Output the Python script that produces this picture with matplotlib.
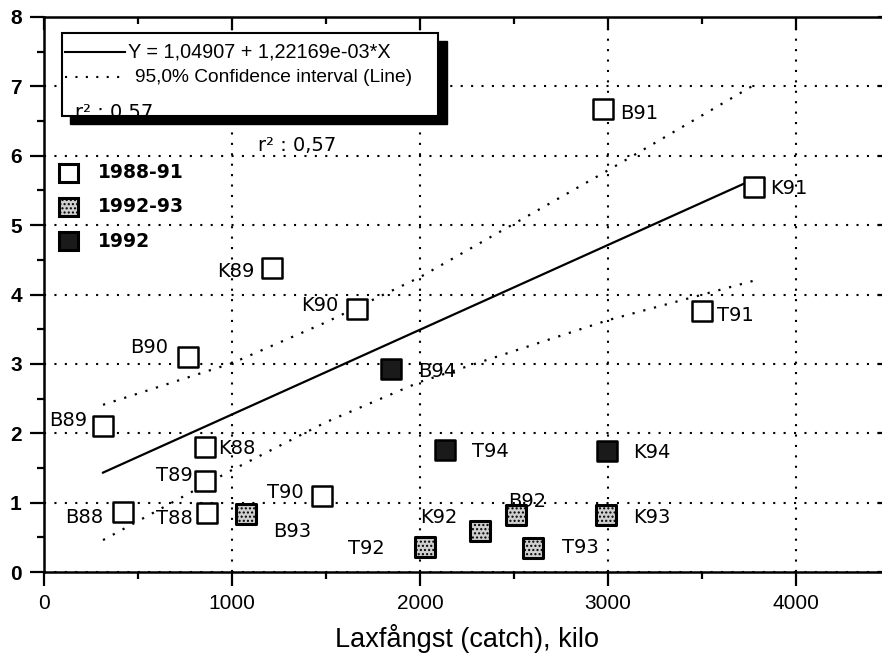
import matplotlib
matplotlib.use('Agg')
import matplotlib.pyplot as plt
from matplotlib.patches import Rectangle
from matplotlib.lines import Line2D

# 1988-91 (open squares)
old_names = ['B88', 'B89', 'B90', 'B91', 'K88', 'K89', 'K90', 'K91', 'T88', 'T89', 'T90', 'T91']
old_x = [420, 314, 766, 2973, 856, 1213, 1665, 3777, 867, 856, 1479, 3500]
old_y = [0.86, 2.10, 3.10, 6.67, 1.80, 4.38, 3.79, 5.55, 0.85, 1.31, 1.10, 3.76]

# 1992-93 (stippled squares)
mid_names = ['B92', 'B93', 'K92', 'K93', 'T92', 'T93']
mid_x = [2511, 1074, 2319, 2989, 2027, 2601]
mid_y = [0.82, 0.84, 0.59, 0.82, 0.36, 0.35]

# "1992" (filled squares)
new_names = ['B94', 'T94', 'K94']
new_x = [1846, 2133, 2995]
new_y = [2.93, 1.76, 1.74]

# regression Y = a + b*X and its 95% band
intercept = 1.04907
slope = 1.22169e-03
band_x = [314, 1000, 1500, 2000, 3000, 3777]
band_upper = [2.41, 3.01, 3.60, 4.25, 5.79, 7.02]
band_lower = [0.46, 1.47, 2.16, 2.74, 3.63, 4.20]

# label placement: offset in pixels from marker, alignment
label_pos = {
    'B88': (-20, -5, 'right'), 'B89': (-16, 6, 'right'), 'B90': (-20, 9, 'right'),
    'B91': (17, -4, 'left'), 'K88': (13, -1, 'left'), 'K89': (-18, -3, 'right'),
    'K90': (-19, 4, 'right'), 'K91': (16, -2, 'left'), 'T88': (-14, -5, 'right'),
    'T89': (-12, 6, 'right'), 'T90': (-18, 3, 'right'), 'T91': (15, -4, 'left'),
    'B92': (-8, 14, 'left'), 'B93': (27, -18, 'left'), 'K92': (-22, 14, 'right'),
    'K93': (27, -2, 'left'), 'T92': (-40, -1, 'right'), 'T93': (29, 0, 'left'),
    'B94': (27, -3, 'left'), 'T94': (27, -2, 'left'), 'K94': (26, -1, 'left'),
}

W, H = 882, 665
fig = plt.figure(figsize=(W / 100, H / 100), dpi=100)
ax = fig.add_axes([44 / W, 1 - 572 / H, 846 / W, 555 / H])
ax.set_xlim(0, 4500)
ax.set_ylim(0, 8)

dots = (0, (1, 4))
ax.grid(True, which='major', color='black', linestyle=dots, linewidth=1.5)
ax.set_axisbelow(True)

ax.set_xticks([0, 1000, 2000, 3000, 4000])
ax.set_xticks(range(500, 4500, 1000), minor=True)
ax.set_yticks(range(0, 9))
ax.set_yticks([v + 0.5 for v in range(8)], minor=True)
ax.tick_params(which='major', direction='out', length=10, width=1.6, pad=6)
ax.tick_params(which='minor', direction='out', length=5, width=1.6)
for lab in ax.get_xticklabels():
    lab.set_fontfamily('Liberation Sans')
    lab.set_fontsize(15)
for lab in ax.get_yticklabels():
    lab.set_fontfamily('Liberation Sans')
    lab.set_fontsize(15)
    lab.set_fontweight('bold')
for s in ax.spines.values():
    s.set_linewidth(1.8)

top = ax.secondary_xaxis('top')
top.set_xticks([0, 1000, 2000, 3000, 4000])
top.set_xticks(range(500, 4500, 1000), minor=True)
top.tick_params(which='major', direction='in', length=9, width=1.6, labeltop=False)
top.tick_params(which='minor', direction='in', length=5, width=1.6)
right = ax.secondary_yaxis('right')
right.set_yticks(range(0, 9))
right.set_yticks([v + 0.5 for v in range(8)], minor=True)
right.tick_params(which='major', direction='in', length=9, width=1.6, labelright=False)
right.tick_params(which='minor', direction='in', length=5, width=1.6)

# regression line and confidence band
line_x = [min(old_x), max(old_x)]
line_y = [intercept + slope * v for v in line_x]
ax.plot(line_x, line_y, color='black', linewidth=1.6, zorder=3)
ax.plot(band_x, band_upper, color='black', linestyle=dots, linewidth=1.6, zorder=3)
ax.plot(band_x, band_lower, color='black', linestyle=dots, linewidth=1.6, zorder=3)

ms = 200
ax.scatter(old_x, old_y, s=ms, marker='s', facecolor='white', edgecolor='black',
           linewidth=1.8, zorder=4)
ax.scatter(mid_x, mid_y, s=ms, marker='s', facecolor='#cfcfcf', edgecolor='black',
           linewidth=2.2, hatch='....', zorder=4)
ax.scatter(new_x, new_y, s=ms, marker='s', facecolor='#1a1a1a', edgecolor='black',
           linewidth=1.8, zorder=4)

for names, xs, ys in [(old_names, old_x, old_y), (mid_names, mid_x, mid_y), (new_names, new_x, new_y)]:
    for n, x, y in zip(names, xs, ys):
        dx, dy, ha = label_pos[n]
        ax.annotate(n, (x, y), xytext=(dx, dy), textcoords='offset pixels',
                    ha=ha, va='center', fontsize=14, family='DejaVu Sans', zorder=5)

ax.set_xlabel('Laxfångst (catch), kilo', fontsize=19.5, family='Liberation Sans', labelpad=8)

ax.text(1138, 6.15, 'r² : 0,57', fontsize=14, family='DejaVu Sans', va='center', ha='left')

# shadowed legend box


def fx(px):
    return px / W


def fy(py):
    return 1 - py / H


shadow = Rectangle((fx(70), fy(124)), fx(377), 83 / H, transform=fig.transFigure,
                   facecolor='black', edgecolor='black', zorder=6)
box = Rectangle((fx(62), fy(116)), fx(376), 83 / H, transform=fig.transFigure,
                facecolor='white', edgecolor='black', linewidth=1.5, zorder=7)
fig.add_artist(shadow)
fig.add_artist(box)
fig.add_artist(Line2D([fx(65), fx(125)], [fy(52), fy(52)], transform=fig.transFigure,
                      color='black', linewidth=1.5, zorder=8))
fig.add_artist(Line2D([fx(65), fx(122)], [fy(77), fy(77)], transform=fig.transFigure,
                      color='black', linestyle=dots, linewidth=1.5, zorder=8))
fig.text(fx(128), fy(52), 'Y = 1,04907 + 1,22169e-03*X', fontsize=14.3, family='Liberation Sans',
         va='center', ha='left', zorder=8)
fig.text(fx(135), fy(77), '95,0% Confidence interval (Line)', fontsize=13.8, family='Liberation Sans',
         va='center', ha='left', zorder=8)
t = fig.text(fx(75), fy(113), 'r² : 0,57', fontsize=14, family='DejaVu Sans',
             va='center', ha='left', zorder=8)
t.set_clip_path(box)

# group legend
groups = ['1988-91', '1992-93', '1992']
group_y = [173, 207, 241]
for g, py, fc, hatch in zip(groups, group_y, ['white', '#cfcfcf', '#1a1a1a'], [None, '....', None]):
    fig.add_artist(Rectangle((fx(59), fy(py + 9)), fx(19), 18 / H, transform=fig.transFigure,
                             facecolor=fc, edgecolor='black', linewidth=2.2, hatch=hatch, zorder=8))
    fig.text(fx(98), fy(py), g, fontsize=13.5, family='DejaVu Sans', fontweight='bold',
             va='center', ha='left', zorder=8)

fig.savefig('out.png', dpi=100)
